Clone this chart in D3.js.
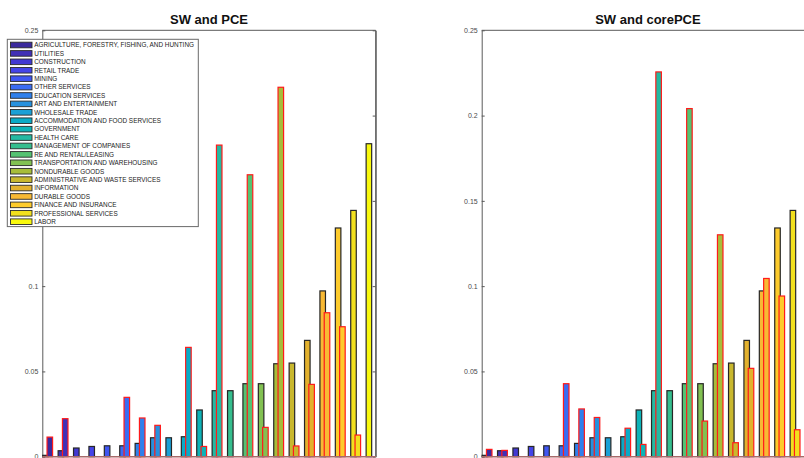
<!DOCTYPE html>
<html>
<head>
<meta charset="utf-8">
<script src="https://cdn.jsdelivr.net/npm/d3@7"></script>
<style>
  html, body { margin: 0; padding: 0; background: #fff; }
  svg { display: block; font-family: "Liberation Sans", Arial, Helvetica, sans-serif; }
</style>
</head>
<body>
<svg id="chart" width="804" height="458"></svg>
<script>
// ---------------- DATA ----------------
const categories = [
  "AGRICULTURE, FORESTRY, FISHING, AND HUNTING",
  "UTILITIES",
  "CONSTRUCTION",
  "RETAIL TRADE",
  "MINING",
  "OTHER SERVICES",
  "EDUCATION SERVICES",
  "ART AND ENTERTAINMENT",
  "WHOLESALE TRADE",
  "ACCOMMODATION AND FOOD SERVICES",
  "GOVERNMENT",
  "HEALTH CARE",
  "MANAGEMENT OF COMPANIES",
  "RE AND RENTAL/LEASING",
  "TRANSPORTATION AND WAREHOUSING",
  "NONDURABLE GOODS",
  "ADMINISTRATIVE AND WASTE SERVICES",
  "INFORMATION",
  "DURABLE GOODS",
  "FINANCE AND INSURANCE",
  "PROFESSIONAL SERVICES",
  "LABOR"
];
// SW shares (black-edged bars, same in both panels)
const swValues = [0.0008, 0.0035, 0.0051, 0.0060, 0.0064, 0.0064, 0.0078, 0.0111, 0.0111, 0.0117, 0.0274,
                  0.0387, 0.0387, 0.0428, 0.0428, 0.0545, 0.0549, 0.0682, 0.0972, 0.1341, 0.1444, 0.1835];
// PCE shares (red-edged bars, left panel)
const pceValues = [0.0115, 0.0223, 0, 0, 0, 0.0348, 0.0227, 0.0184, 0, 0.0641, 0.0060,
                   0.1827, 0, 0.1653, 0.0172, 0.2166, 0.0063, 0.0424, 0.0844, 0.0762, 0.0127, 0];
// corePCE shares (red-edged bars, right panel)
const corePceValues = [0.0043, 0.0037, 0, 0, 0, 0.0428, 0.0280, 0.0230, 0, 0.0167, 0.0072,
                       0.2256, 0, 0.2041, 0.0209, 0.1301, 0.0082, 0.0518, 0.1045, 0.0942, 0.0158, 0];
const yTicks = [0, 0.05, 0.1, 0.15, 0.2, 0.25];
const titles = ["SW and PCE", "SW and corePCE"];

// ---------------- STYLE ----------------
const palette = ["#3b2a9c","#4030b6","#4138d2","#4444e8","#3f56f2","#3a6cf2","#2f80ec","#2791de",
                 "#1ba0d6","#0aaac6","#0db3b8","#25b9a2","#35be8e","#55c272","#82c152","#a7bd3a",
                 "#c9b82e","#e2b12e","#f8b934","#fdcb2c","#f2e01e","#f9f90e"];
const axisColor = "#5a5a5a";

const svg = d3.select("#chart");

const panels = [
  { x0: 42.3, x1: 375.7, red: pceValues, title: titles[0], legend: true },
  { x0: 481.7, x1: 815.1, red: corePceValues, title: titles[1], legend: false }
];

const yTop = 30.3, yZero = 456.7;
const y = d3.scaleLinear().domain([0, 0.25]).range([yZero, yTop]);

panels.forEach(p => {
  const g = svg.append("g");
  const x = d3.scaleLinear().domain([0, categories.length - 1])
              .range([p.x0 + 3.2, p.x0 + 3.2 + 21 * 15.4]);
  const unit = x(1) - x(0);
  const bw = 0.36 * unit;
  const off = 0.28 * unit;

  g.append("line").attr("x1", p.x0).attr("x2", p.x1).attr("y1", yTop).attr("y2", yTop)
    .attr("stroke", axisColor).attr("stroke-width", 1);
  g.append("line").attr("x1", p.x1).attr("x2", p.x1).attr("y1", yTop).attr("y2", yZero)
    .attr("stroke", axisColor).attr("stroke-width", 1);

  const yAxis = d3.axisLeft(y).tickValues(yTicks).tickSizeInner(-3).tickSizeOuter(0).tickPadding(4)
    .tickFormat(d => d3.format("")(+d.toFixed(2)));
  const ya = g.append("g").attr("transform", `translate(${p.x0},0)`).call(yAxis);
  ya.select(".domain").attr("stroke", axisColor);
  ya.selectAll(".tick line").attr("stroke", axisColor);
  ya.selectAll(".tick text").attr("fill", "#4a4a4a").style("font-size", "7px")
    .style("font-family", "'Liberation Sans', Arial, sans-serif");

  const yAxisR = d3.axisRight(y).tickValues(yTicks).tickSizeInner(-3).tickSizeOuter(0).tickFormat("");
  const yr = g.append("g").attr("transform", `translate(${p.x1},0)`).call(yAxisR);
  yr.select(".domain").attr("stroke", axisColor);
  yr.selectAll(".tick line").attr("stroke", axisColor);

  g.selectAll("rect.sw").data(swValues).join("rect").attr("class", "sw")
    .attr("x", (d, i) => x(i) - bw / 2)
    .attr("width", bw)
    .attr("y", d => y(d))
    .attr("height", d => yZero - y(d))
    .attr("fill", (d, i) => palette[i])
    .attr("stroke", "#262626").attr("stroke-width", 1.2);

  g.selectAll("rect.pce").data(p.red).join("rect").attr("class", "pce")
    .attr("x", (d, i) => x(i) + off - bw / 2)
    .attr("width", bw)
    .attr("y", d => y(d))
    .attr("height", d => yZero - y(d))
    .attr("fill", (d, i) => palette[i])
    .attr("stroke", "#ff1a1a").attr("stroke-width", 1.2)
    .attr("display", d => d > 0 ? null : "none");

  g.append("line").attr("x1", p.x0).attr("x2", p.x1).attr("y1", yZero).attr("y2", yZero)
    .attr("stroke", "#a86a6a").attr("stroke-width", 1.4);

  g.append("text").attr("x", (p.x0 + p.x1) / 2 + (p.legend ? 0 : -0.5)).attr("y", 24)
    .attr("text-anchor", "middle").attr("font-weight", "bold").attr("font-size", 13)
    .attr("fill", "#111").text(p.title);

  if (p.legend) {
    const lg = g.append("g");
    lg.append("rect").attr("x", 7.3).attr("y", 39.3).attr("width", 191).attr("height", 187.3)
      .attr("fill", "#fff").attr("stroke", "#6a6a6a").attr("stroke-width", 1);
    const rowY = d3.scaleLinear().domain([0, categories.length - 1]).range([45, 221.7]);
    const rows = lg.selectAll("g.row").data(categories).join("g").attr("class", "row")
      .attr("transform", (d, i) => `translate(0,${rowY(i)})`);
    rows.append("rect").attr("x", 10.5).attr("y", -2.8).attr("width", 21.5).attr("height", 5.6)
      .attr("fill", (d, i) => palette[i]).attr("stroke", "#2a2a2a").attr("stroke-width", 0.9);
    rows.append("text").attr("x", 34.2).attr("y", 0).attr("dy", "0.36em")
      .attr("font-size", 6.4).attr("fill", "#222").text(d => d);
  }
});
</script>
</body>
</html>
